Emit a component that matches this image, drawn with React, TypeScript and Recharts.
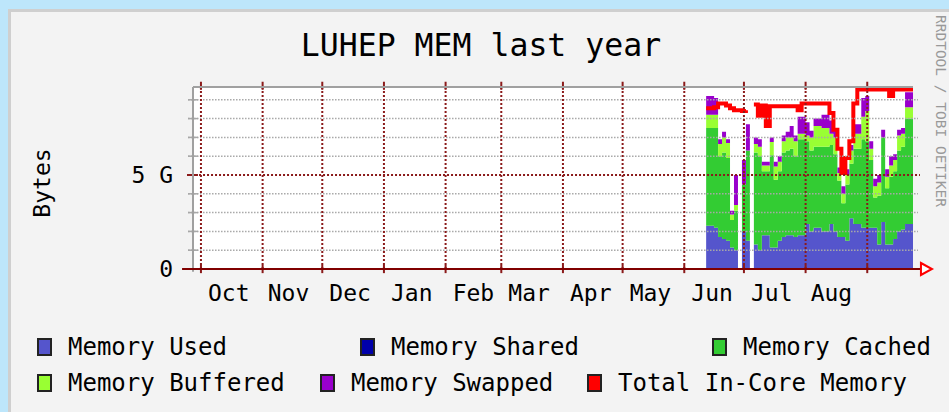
import React from 'react';
import {
  ComposedChart,
  Area,
  Line,
  XAxis,
  YAxis,
  ReferenceLine,
  ReferenceDot,
} from 'recharts';

// days counted from the left edge of the graph (Oct 1 = day 4)
const days = [
  258, 260, 262, 264, 266, 268, 270, 272, 274, 276, 278, 280, 282, 284, 286, 288, 290, 292,
  294, 296, 298, 300, 302, 304, 306, 308, 310, 312, 314, 316, 318, 320, 322, 324, 326, 328,
  330, 332, 334, 336, 338, 340, 342, 344, 346, 348, 350, 352, 354, 356, 358, 360, 362,
];

// values in GB
const memUsed = [
  2.3, 2.3, 2.2, 1.7, 1.6, 1.5, 1.15, 1.0, 0, 2.0, 1.5, 0, 1.3, 1.0, 1.8, 1.8, 1.15, 1.15,
  1.5, 1.7, 1.8, 1.8, 1.7, 1.8, 1.8, 2.4, 2.0, 2.2, 2.2, 2.0, 2.0, 2.4, 2.0, 1.7, 1.7, 1.5,
  2.7, 2.4, 2.4, 2.2, 2.2, 2.2, 2.2, 1.3, 2.5, 1.3, 1.3, 1.6, 2.0, 2.1, 2.4, 2.4, 2.4,
];
const memShared = [
  0, 0, 0, 0, 0, 0, 0, 0, 0, 0, 0, 0, 0, 0, 0, 0, 0, 0,
  0, 0, 0, 0, 0, 0, 0, 0, 0, 0, 0, 0, 0, 0, 0, 0, 0, 0,
  0, 0, 0, 0, 0, 0, 0, 0, 0, 0, 0, 0, 0, 0, 0, 0, 0,
];
const memCached = [
  5.2, 5.2, 5.3, 4.3, 4.6, 4.4, 1.45, 2.1, 0, 2.5, 4.8, 0, 4.9, 5.0, 3.4, 3.4, 4.9, 3.6,
  3.7, 4.5, 4.5, 4.6, 4.3, 5.1, 5.1, 4.4, 4.3, 4.3, 4.3, 4.5, 4.5, 4.2, 4.1, 3.0, 1.8, 3.0,
  2.9, 4.0, 4.0, 4.7, 4.6, 3.6, 1.6, 2.6, 4.5, 3.0, 3.6, 3.6, 4.3, 4.4, 5.6, 5.6, 5.6,
];
const memBuffered = [
  0.7, 0.7, 0.7, 0.65, 0.8, 0.8, 0.3, 0.3, 0, 0, 0, 0, 0.45, 0.5, 0.3, 0.3, 0.7, 0.7,
  0.5, 0.6, 0.7, 0.6, 0.8, 0.3, 0.3, 0.3, 0.7, 1.1, 1.1, 1.0, 1.0, 0.6, 0.9, 0.4, 0.5, 0.5,
  0.7, 0.8, 0.8, 1.2, 1.6, 0.6, 0.6, 0.7, 0, 0.6, 0.6, 0.6, 0.8, 0.7, 0.6, 0.6, 0.6,
];
const memSwapped = [
  1.0, 1.0, 0.9, 0.25, 0.3, 0.2, 0.2, 1.6, 0, 1.3, 1.4, 0, 0.35, 0.4, 0.2, 0.2, 0.25, 0.25,
  0.3, 0.3, 0.3, 0.6, 0.3, 0.9, 0.9, 0.7, 0.35, 0.4, 0.4, 0.7, 0.7, 0.7, 0.4, 0.3, 0.4, 0.3,
  0.3, 0.5, 0.5, 1.0, 0.8, 0.4, 0.4, 0.4, 0.4, 0.4, 0.5, 0.3, 0.3, 0.3, 0.8, 0.8, 0.8,
];
const totalInCore = [
  8.55, 8.55, 8.6, 8.8, 8.8, 8.7, 8.55, 8.45, 8.45, 8.4, 8.45, null, 8.75, 8.15, 8.7, 7.6, 8.65, 8.65,
  8.65, 8.65, 8.65, 8.65, 8.65, 8.45, 8.8, 8.8, 8.8, 8.8, 8.8, 8.8, 8.8, 8.3, 7.4, 6.4, 5.1, 5.9,
  6.8, 8.8, 9.55, 9.55, 9.55, 9.55, 9.55, 9.55, 9.55, 9.55, 9.2, 9.55, 9.55, 9.55, 9.55, 9.55, 9.55,
];

const monthNames = ['Oct', 'Nov', 'Dec', 'Jan', 'Feb', 'Mar', 'Apr', 'May', 'Jun', 'Jul', 'Aug'];
const monthLabelDays = [18, 48, 79, 110, 141, 169, 200, 230, 261, 291, 321];
const monthStarts = [4, 35, 65, 96, 127, 155, 186, 216, 247, 277, 308, 339];
const yTicks = [0, 5];
const yMinor = [1, 2, 3, 4, 6, 7, 8, 9];

const series = [
  { key: 'used', name: 'Memory Used', color: '#5555cc' },
  { key: 'shared', name: 'Memory Shared', color: '#0000aa' },
  { key: 'cached', name: 'Memory Cached', color: '#33cc33' },
  { key: 'buffered', name: 'Memory Buffered', color: '#99ff33' },
  { key: 'swapped', name: 'Memory Swapped', color: '#9900cc' },
  { key: 'total', name: 'Total In-Core Memory', color: '#ff0000' },
];

const data = days.map((day, i) => ({
  day,
  used: memUsed[i],
  shared: memShared[i],
  cached: memCached[i],
  buffered: memBuffered[i],
  swapped: memSwapped[i],
  total: totalInCore[i],
}));

const X_MAX = 362;
const Y_MAX = 9.68;
const MONO = "'DejaVu Sans Mono', monospace";
const GRID_RED = '#8b1a1a';
const GRID_GREY = '#a8a8a8';

// legend slots [left, top] in px
const legendPos = [
  [37, 338], [360, 338], [712, 338],
  [37, 374], [320, 374], [587, 374],
];

const Legendary = () => (
  <>
    {series.map((s, i) => (
      <div key={s.key}>
        <div
          style={{
            position: 'absolute',
            left: legendPos[i][0],
            top: legendPos[i][1],
            width: 11,
            height: 14,
            background: s.color,
            border: '2px solid #222',
          }}
        />
        <div
          style={{
            position: 'absolute',
            left: legendPos[i][0] + 31,
            top: legendPos[i][1] - 3,
            fontFamily: MONO,
            fontSize: 24,
            lineHeight: '24px',
            color: '#000',
            whiteSpace: 'nowrap',
          }}
        >
          {s.name}
        </div>
      </div>
    ))}
  </>
);

const Arrow = (p: any) => (
  <polygon
    points={`${p.cx},${p.cy - 6} ${p.cx + 11},${p.cy} ${p.cx},${p.cy + 6}`}
    fill="#ffffff"
    stroke="#ff0000"
    strokeWidth={2}
  />
);

export default function App() {
  return (
    <div style={{ position: 'absolute', left: 0, top: 0, width: 949, height: 412, background: '#bde6fb', overflow: 'hidden' }}>
      <div
        style={{
          position: 'absolute',
          left: 8,
          top: 9,
          width: 960,
          height: 420,
          background: '#f3f3f3',
          borderLeft: '3px solid #cfcfcf',
          borderTop: '3px solid #cfcfcf',
        }}
      />
      {/* white canvas behind the plot */}
      <div style={{ position: 'absolute', left: 193, top: 87, width: 720, height: 182, background: '#ffffff' }} />
      <div
        style={{
          position: 'absolute',
          left: 281,
          top: 27,
          width: 400,
          textAlign: 'center',
          fontFamily: MONO,
          fontSize: 31.5,
          color: '#000',
          whiteSpace: 'nowrap',
        }}
      >
        LUHEP MEM last year
      </div>
      <div
        style={{
          position: 'absolute',
          left: 42,
          top: 183,
          transform: 'translate(-50%, -50%) rotate(-90deg)',
          fontFamily: MONO,
          fontSize: 23,
          color: '#000',
          whiteSpace: 'nowrap',
        }}
      >
        Bytes
      </div>
      <div
        style={{
          position: 'absolute',
          left: 941,
          top: 111,
          transform: 'translate(-50%, -50%) rotate(90deg)',
          fontFamily: MONO,
          fontSize: 14.5,
          color: '#999',
          whiteSpace: 'nowrap',
        }}
      >
        RRDTOOL / TOBI OETIKER
      </div>
      <div style={{ position: 'absolute', left: 0, top: 0 }}>
        <ComposedChart
          width={949}
          height={412}
          data={data}
          margin={{ top: 87, right: 36, bottom: 103, left: 133 }}
        >
          <XAxis
            dataKey="day"
            type="number"
            domain={[0, X_MAX]}
            ticks={monthLabelDays}
            interval={0}
            tickFormatter={(v) => monthNames[monthLabelDays.indexOf(v)]}
            tick={{ fill: '#000', fontSize: 23, fontFamily: MONO }}
            axisLine={false}
            tickLine={false}
            tickSize={0}
            tickMargin={16}
            height={40}
          />
          <YAxis
            type="number"
            domain={[0, Y_MAX]}
            ticks={yTicks}
            interval={0}
            tickFormatter={(v) => (v === 0 ? '0' : `${v} G`)}
            tick={{ fill: '#000', fontSize: 23, fontFamily: MONO }}
            axisLine={false}
            tickLine={false}
            tickSize={0}
            tickMargin={20}
            width={60}
          />
          <Area type="stepAfter" dataKey="used" stackId="m" fill="#5555cc" fillOpacity={1} stroke="none" isAnimationActive={false} />
          <Area type="stepAfter" dataKey="shared" stackId="m" fill="#0000aa" fillOpacity={1} stroke="none" isAnimationActive={false} />
          <Area type="stepAfter" dataKey="cached" stackId="m" fill="#33cc33" fillOpacity={1} stroke="none" isAnimationActive={false} />
          <Area type="stepAfter" dataKey="buffered" stackId="m" fill="#99ff33" fillOpacity={1} stroke="none" isAnimationActive={false} />
          <Area type="stepAfter" dataKey="swapped" stackId="m" fill="#9900cc" fillOpacity={1} stroke="none" isAnimationActive={false} />
          <Line type="stepAfter" dataKey="total" stroke="#ff0000" strokeWidth={4} dot={false} activeDot={false} connectNulls={false} isAnimationActive={false} />

          {/* minor horizontal grid */}
          {yMinor.map((g) => (
            <ReferenceLine key={`mg${g}`} segment={[{ x: -2.5, y: g }, { x: X_MAX + 2.5, y: g }]} stroke={GRID_GREY} strokeWidth={1.5} strokeDasharray="1.5 1.5" ifOverflow="visible" />
          ))}
          {yMinor.map((g) => (
            <ReferenceLine key={`mt${g}`} segment={[{ x: -2.5, y: g }, { x: 2.5, y: g }]} stroke={GRID_GREY} strokeWidth={1.5} ifOverflow="visible" />
          ))}
          {/* 5 G major */}
          <ReferenceLine segment={[{ x: -3, y: 5 }, { x: X_MAX + 3.5, y: 5 }]} stroke={GRID_RED} strokeWidth={2} strokeDasharray="2 2" ifOverflow="visible" />
          <ReferenceLine segment={[{ x: -3, y: 5 }, { x: 2.5, y: 5 }]} stroke={GRID_RED} strokeWidth={2} ifOverflow="visible" />
          {/* month grid */}
          {monthStarts.map((d) => (
            <ReferenceLine key={`vg${d}`} segment={[{ x: d, y: 0 }, { x: d, y: Y_MAX }]} stroke={GRID_RED} strokeWidth={2} strokeDasharray="2 2" ifOverflow="visible" />
          ))}
          {monthStarts.map((d) => (
            <ReferenceLine key={`vt${d}`} segment={[{ x: d, y: Y_MAX - 0.15 }, { x: d, y: Y_MAX + 0.28 }]} stroke={GRID_RED} strokeWidth={2} ifOverflow="visible" />
          ))}
          {monthStarts.map((d) => (
            <ReferenceLine key={`vb${d}`} segment={[{ x: d, y: 0.22 }, { x: d, y: -0.22 }]} stroke={GRID_RED} strokeWidth={2} ifOverflow="visible" />
          ))}
          {/* frame */}
          <ReferenceLine segment={[{ x: 0, y: Y_MAX }, { x: X_MAX, y: Y_MAX }]} stroke="#a0a0a0" strokeWidth={2} ifOverflow="visible" />
          <ReferenceLine segment={[{ x: 0, y: -0.15 }, { x: 0, y: Y_MAX }]} stroke="#a0a0a0" strokeWidth={2} ifOverflow="visible" />
          <ReferenceLine segment={[{ x: -5.5, y: 0 }, { x: 366, y: 0 }]} stroke="#800000" strokeWidth={2} ifOverflow="visible" />
          <ReferenceDot x={366} y={0} r={6} ifOverflow="visible" shape={Arrow} />
        </ComposedChart>
      </div>
      <Legendary />
    </div>
  );
}
